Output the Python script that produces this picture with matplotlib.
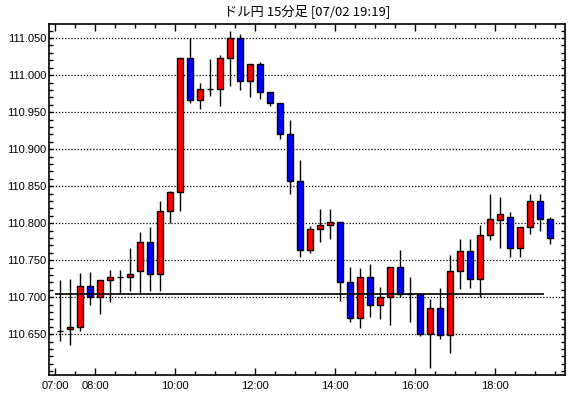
import matplotlib
matplotlib.use('Agg')
import matplotlib.pyplot as plt
from matplotlib.ticker import MultipleLocator, FixedLocator, FuncFormatter

# 15-minute candles from 07:00 (index 0) to 19:15 (index 49)
opens = [110.655, 110.657, 110.660, 110.715, 110.700, 110.723, 110.728, 110.728, 110.735, 110.774,
         110.732, 110.816, 110.842, 111.023, 110.966, 110.981, 110.981, 111.023, 111.050, 110.992,
         111.015, 110.977, 110.962, 110.920, 110.857, 110.764, 110.792, 110.797, 110.801, 110.720,
         110.672, 110.728, 110.690, 110.701, 110.741, 110.705, 110.705, 110.650, 110.686, 110.649,
         110.736, 110.762, 110.724, 110.784, 110.804, 110.809, 110.766, 110.795, 110.830, 110.805]
highs = [110.723, 110.725, 110.733, 110.734, 110.723, 110.737, 110.737, 110.767, 110.788, 110.795,
         110.830, 110.844, 111.023, 111.050, 110.990, 111.022, 111.027, 111.060, 111.056, 111.015,
         111.018, 110.977, 110.962, 110.940, 110.886, 110.796, 110.819, 110.819, 110.801, 110.741,
         110.739, 110.745, 110.714, 110.741, 110.764, 110.727, 110.705, 110.698, 110.713, 110.757,
         110.779, 110.779, 110.797, 110.840, 110.836, 110.815, 110.795, 110.840, 110.839, 110.809]
lows = [110.641, 110.636, 110.655, 110.690, 110.678, 110.694, 110.705, 110.709, 110.705, 110.708,
        110.709, 110.800, 110.816, 110.962, 110.954, 110.972, 110.958, 110.985, 110.980, 110.971,
        110.968, 110.958, 110.914, 110.839, 110.755, 110.760, 110.774, 110.778, 110.695, 110.667,
        110.659, 110.674, 110.671, 110.663, 110.700, 110.666, 110.647, 110.604, 110.644, 110.625,
        110.711, 110.713, 110.701, 110.777, 110.767, 110.755, 110.754, 110.785, 110.789, 110.772]
closes = [110.655, 110.660, 110.715, 110.700, 110.723, 110.728, 110.728, 110.732, 110.774, 110.732,
          110.816, 110.842, 111.023, 110.966, 110.981, 110.981, 111.023, 111.050, 110.992, 111.015,
          110.977, 110.962, 110.920, 110.857, 110.764, 110.792, 110.797, 110.801, 110.720, 110.672,
          110.728, 110.689, 110.701, 110.741, 110.705, 110.705, 110.650, 110.686, 110.649, 110.736,
          110.762, 110.724, 110.784, 110.805, 110.812, 110.766, 110.795, 110.830, 110.805, 110.780]
ref_price = 110.705
ref_end = 12.22          # hours after 07:00
price_ticks = [110.650, 110.700, 110.750, 110.800, 110.850, 110.900, 110.950, 111.000, 111.050]
tick_hours = [0, 1, 3, 5, 7, 9, 11]
tick_labels = ['07:00', '08:00', '10:00', '12:00', '14:00', '16:00', '18:00']
title = 'ドル円 15分足 [07/02 19:19]'

fig = plt.figure(figsize=(5.7, 3.98), dpi=100)
ax = fig.add_axes([49.3 / 570, 23 / 398, 516 / 570, 351 / 398])

xs = [i * 0.25 + 0.125 for i in range(len(opens))]
w = 0.15
ax.vlines(xs, lows, highs, color='black', lw=1, zorder=2)
for x, o, c in zip(xs, opens, closes):
    if abs(c - o) < 1e-9:
        ax.hlines(o, x - w / 2, x + w / 2, color='black', lw=1, zorder=3)
    else:
        ax.bar(x, abs(c - o), bottom=min(o, c), width=w,
               color='#ff0000' if c > o else '#0000ff',
               edgecolor='black', linewidth=1, zorder=3)

ax.hlines(ref_price, 0, ref_end, color='black', lw=1.2, zorder=4)

ax.set_xlim(-0.15, 12.75)
ax.set_ylim(110.595, 111.069)

ax.yaxis.set_major_locator(FixedLocator(price_ticks))
ax.yaxis.set_minor_locator(MultipleLocator(0.01))
ax.yaxis.set_major_formatter(FuncFormatter(lambda v, p: '%.3f' % v))
ax.xaxis.set_major_locator(FixedLocator(tick_hours))
ax.xaxis.set_minor_locator(MultipleLocator(0.5))
ax.set_xticklabels(tick_labels)

ax.yaxis.grid(True, which='major', linestyle=(0, (1, 1.5)), color='black', lw=0.9)
ax.set_axisbelow(True)

ax.tick_params(axis='both', which='both', direction='in', top=True, right=True,
               color='black', width=1, labelsize=8)
ax.tick_params(axis='x', which='major', length=5, pad=4)
ax.tick_params(axis='x', which='minor', length=3)
ax.tick_params(axis='y', which='both', length=3, pad=2)
for lab in ax.get_xticklabels() + ax.get_yticklabels():
    lab.set_family('Liberation Sans')
for s in ax.spines.values():
    s.set_linewidth(1.2)

fig.text(307 / 570, 1 - 11 / 398, title, ha='center', va='center', fontsize=9.5,
         family=['Noto Sans CJK JP', 'DejaVu Sans'])

fig.savefig('out.png', dpi=100, facecolor='white')
